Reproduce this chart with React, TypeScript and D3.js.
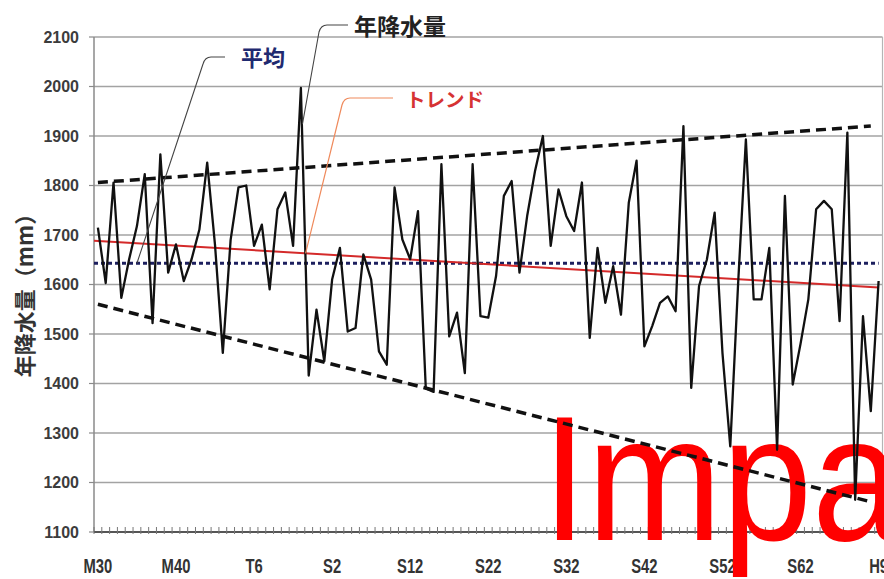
import React from "react";
import * as d3 from "d3";

// ---- data ----
const eraLabels = ["M30", "M40", "T6", "S2", "S12", "S22", "S32", "S42", "S52", "S62", "H9"];
const labelEvery = 10;
const yTicks = [1100, 1200, 1300, 1400, 1500, 1600, 1700, 1800, 1900, 2000, 2100];

// annual precipitation 1897 (M30) .. 1997 (H9), mm
const precipitation = [
  1715, 1603, 1806, 1573, 1651, 1718, 1823, 1522, 1863, 1624,
  1681, 1607, 1651, 1711, 1846, 1680, 1462, 1690, 1796, 1800,
  1678, 1721, 1590, 1752, 1786, 1678, 1997, 1416, 1549, 1445,
  1610, 1674, 1505, 1512, 1661, 1610, 1465, 1438, 1796, 1691,
  1651, 1748, 1390, 1383, 1843, 1495, 1543, 1421, 1843, 1536,
  1533, 1617, 1779, 1809, 1624, 1740, 1830, 1900, 1678, 1792,
  1738, 1708, 1806, 1492, 1674, 1563, 1637, 1539, 1765, 1850,
  1475, 1516, 1563, 1576, 1546, 1920, 1391, 1597, 1650, 1745,
  1462, 1273, 1600, 1893, 1570, 1570, 1674, 1266, 1779, 1398,
  1480, 1570, 1752, 1769, 1752, 1526, 1907, 1165, 1536, 1344,
  1607,
];

const meanValue = 1643;
const trendIdx = [0, 100];
const trendVals = [1688, 1594];
const upperIdx = [0, 99];
const upperVals = [1806, 1920];
const lowerIdx = [0, 99];
const lowerVals = [1560, 1161];

const W = 884;
const H = 579;

export default function App() {
  const n = precipitation.length;
  const x = d3.scaleLinear().domain([-0.5, n - 0.5]).range([94, 882.5]);
  const y = d3.scaleLinear().domain([1100, 2100]).range([532, 37]);

  const line = d3
    .line<[number, number]>()
    .x((d) => x(d[0]))
    .y((d) => y(d[1]));

  const dataPts: [number, number][] = precipitation.map((v, i) => [i, v]);
  const trendAt = d3.scaleLinear().domain(trendIdx).range(trendVals);
  const trendPts: [number, number][] = [
    [-0.5, trendAt(-0.5)],
    [trendIdx[1], trendVals[1]],
  ];
  const upperPts: [number, number][] = upperIdx.map((i, k) => [i, upperVals[k]]);
  const lowerPts: [number, number][] = lowerIdx.map((i, k) => [i, lowerVals[k]]);
  const meanPts: [number, number][] = [
    [-0.5, meanValue],
    [n - 1, meanValue],
  ];

  const left = x(-0.5);
  const right = x(n - 0.5);
  const top = y(2100);
  const bottom = y(1100);

  const numFont = "'Liberation Sans', Arial, sans-serif";
  const cjkFont = "'Noto Sans CJK JP', 'Noto Sans CJK SC', sans-serif";

  // leader anchors (data space)
  const rainAnchor = [x(26.2), y(1924)];
  const meanAnchor = [x(5), y(meanValue)];
  const trendAnchor = [x(26.6), y(trendAt(26.6))];

  const boundaries = d3.range(0, n + 1).map((i) => i - 0.5);

  return (
    <svg
      width={W}
      height={H}
      style={{ position: "absolute", left: 0, top: 0, background: "#fff" }}
    >
      <rect x={0} y={0} width={W} height={H} fill="#fff" />
      {/* gridlines */}
      {yTicks.map((t) => (
        <line
          key={"g" + t}
          x1={left}
          x2={right}
          y1={y(t)}
          y2={y(t)}
          stroke="#a3a3a3"
          strokeWidth={1.5}
        />
      ))}
      {/* left axis */}
      <line x1={left} x2={left} y1={top} y2={bottom} stroke="#8a8a8a" strokeWidth={1.5} />
      <line x1={right} x2={right} y1={top} y2={bottom} stroke="#b5b5b5" strokeWidth={1.2} />
      {yTicks.map((t) => (
        <line key={"yt" + t} x1={left - 5} x2={left} y1={y(t)} y2={y(t)} stroke="#8a8a8a" strokeWidth={1.2} />
      ))}
      {/* bottom axis */}
      <line x1={left} x2={right} y1={bottom} y2={bottom} stroke="#333" strokeWidth={1.6} />
      {boundaries.map((b) => (
        <line
          key={"xt" + b}
          x1={x(b)}
          x2={x(b)}
          y1={bottom - 5}
          y2={bottom + 2}
          stroke="#777"
          strokeWidth={1}
        />
      ))}
      {/* y tick labels */}
      {yTicks.map((t) => (
        <text
          key={"yl" + t}
          x={79}
          y={y(t) + 5.5}
          textAnchor="end"
          fontFamily={numFont}
          fontWeight="bold"
          fontSize={16}
          fill="#3c3c3c"
        >
          {t}
        </text>
      ))}
      {/* x labels */}
      {eraLabels.map((lab, k) => (
        <text
          key={"xl" + lab}
          transform={`translate(${x(k * labelEvery)},572.5) scale(0.74,1)`}
          textAnchor="middle"
          fontFamily={numFont}
          fontWeight="bold"
          fontSize={20}
          fill="#333"
        >
          {lab}
        </text>
      ))}
      {/* y title */}
      <text
        transform="translate(23,290) rotate(-90)"
        textAnchor="middle"
        dominantBaseline="central"
        fontFamily={cjkFont}
        fontWeight="bold"
        fontSize={22}
        fill="#333"
      >
        年降水量（mm）
      </text>

      {/* overlay text */}
      <text
        transform="translate(542,540) scale(0.91,1)"
        fontFamily={numFont}
        fontSize={178}
        fill="#ff0000"
      >
        Impa
      </text>

      {/* envelopes */}
      <path d={line(upperPts) || ""} fill="none" stroke="#111" strokeWidth={3.5} strokeDasharray="10,6" />
      <path d={line(lowerPts) || ""} fill="none" stroke="#111" strokeWidth={3.5} strokeDasharray="10,6" />
      {/* mean */}
      <path d={line(meanPts) || ""} fill="none" stroke="#1c1f5e" strokeWidth={3} strokeDasharray="4,3" />
      {/* trend */}
      <path d={line(trendPts) || ""} fill="none" stroke="#d42a2a" strokeWidth={2} />
      {/* data */}
      <path
        d={line(dataPts) || ""}
        fill="none"
        stroke="#111"
        strokeWidth={2.3}
        strokeLinejoin="round"
      />

      {/* leaders */}
      <path
        d={`M348,25 L327,25 Q321,25 319,32 L${rainAnchor[0]},${rainAnchor[1]}`}
        fill="none"
        stroke="#444"
        strokeWidth={1.1}
      />
      <path
        d={`M225,57 L211,57 Q205,57 203,64 L${meanAnchor[0]},${meanAnchor[1]}`}
        fill="none"
        stroke="#444"
        strokeWidth={1.1}
      />
      <path
        d={`M393,98 L350,98 Q344,98 342,105 L${trendAnchor[0]},${trendAnchor[1]}`}
        fill="none"
        stroke="#ef8a5c"
        strokeWidth={1.2}
      />
      <text x={354} y={25} dominantBaseline="central" fontFamily={cjkFont} fontWeight="bold" fontSize={23} fill="#222">
        年降水量
      </text>
      <text x={241} y={56} dominantBaseline="central" fontFamily={cjkFont} fontWeight="bold" fontSize={22} fill="#1f2a70">
        平均
      </text>
      <text x={406} y={98} dominantBaseline="central" fontFamily={cjkFont} fontWeight="bold" fontSize={19.5} fill="#d63333">
        トレンド
      </text>
    </svg>
  );
}
